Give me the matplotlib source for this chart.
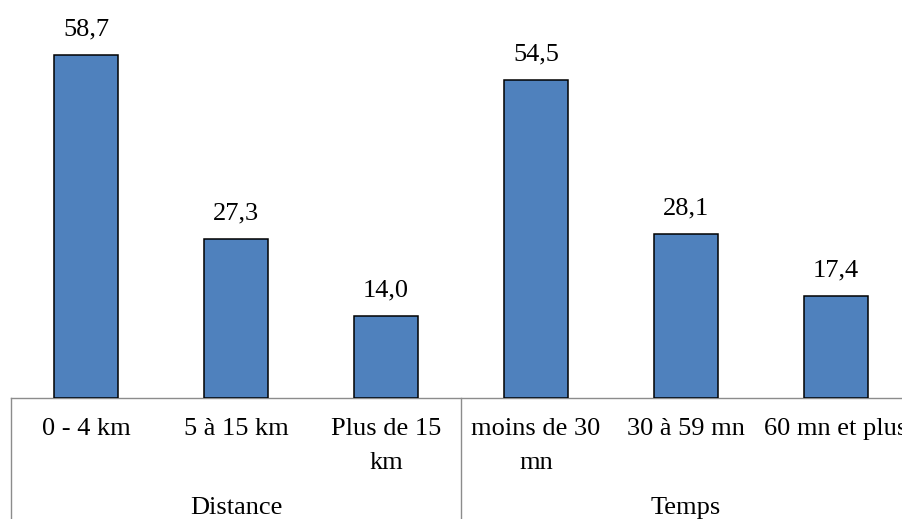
import matplotlib
matplotlib.use("Agg")
import matplotlib.pyplot as plt
import matplotlib.transforms as mtransforms

plt.rcParams['font.family'] = ['Liberation Serif', 'DejaVu Serif']

categories = ["0 - 4 km", "5 à 15 km", "Plus de 15\nkm",
              "moins de 30\nmn", "30 à 59 mn", "60 mn et plus"]
values = [58.7, 27.3, 14.0, 54.5, 28.1, 17.4]
groups = ["Distance", "Temps"]
group_sizes = [3, 3]

W, H = 902, 519
fig = plt.figure(figsize=(W / 100, H / 100), dpi=100)
base_px = 398
ax = fig.add_axes([11 / W, 1 - base_px / H, 900 / W, base_px / H])

x = list(range(len(values)))
ax.bar(x, values, width=0.43, color='#4F81BD', edgecolor='black', linewidth=1.1, zorder=3)
ax.set_xlim(-0.5, len(values) - 0.5)
ax.set_ylim(0, 68.2)

FS = 19
for xi, v in zip(x, values):
    ax.annotate(f"{v:.1f}".replace('.', ','), (xi, v), xytext=(0, 18.5), textcoords='offset points',
                ha='center', va='center', fontsize=FS)

for s in ['top', 'left', 'right']:
    ax.spines[s].set_visible(False)
ax.spines['bottom'].set_color('#8c8c8c')
ax.spines['bottom'].set_linewidth(1.0)
ax.set_yticks([])
ax.set_xticks([])

trans = mtransforms.blended_transform_factory(ax.transData, ax.transAxes)
for xi, lab in zip(x, categories):
    ax.text(xi, -20 / base_px, lab, transform=trans, ha='center', va='top', fontsize=FS,
            multialignment='center', linespacing=1.68)

bottom_frac = -(H - base_px) / base_px
edges = [-0.5]
for n in group_sizes:
    edges.append(edges[-1] + n)
for e in edges:
    ax.plot([e, e], [0, bottom_frac], transform=trans, color='#8c8c8c', lw=1.0, clip_on=False)

start = -0.5
for g, n in zip(groups, group_sizes):
    cx = start + n / 2
    ax.text(cx, -110 / base_px, g, transform=trans, ha='center', va='center', fontsize=FS)
    start += n

fig.savefig("out.png", dpi=100)
